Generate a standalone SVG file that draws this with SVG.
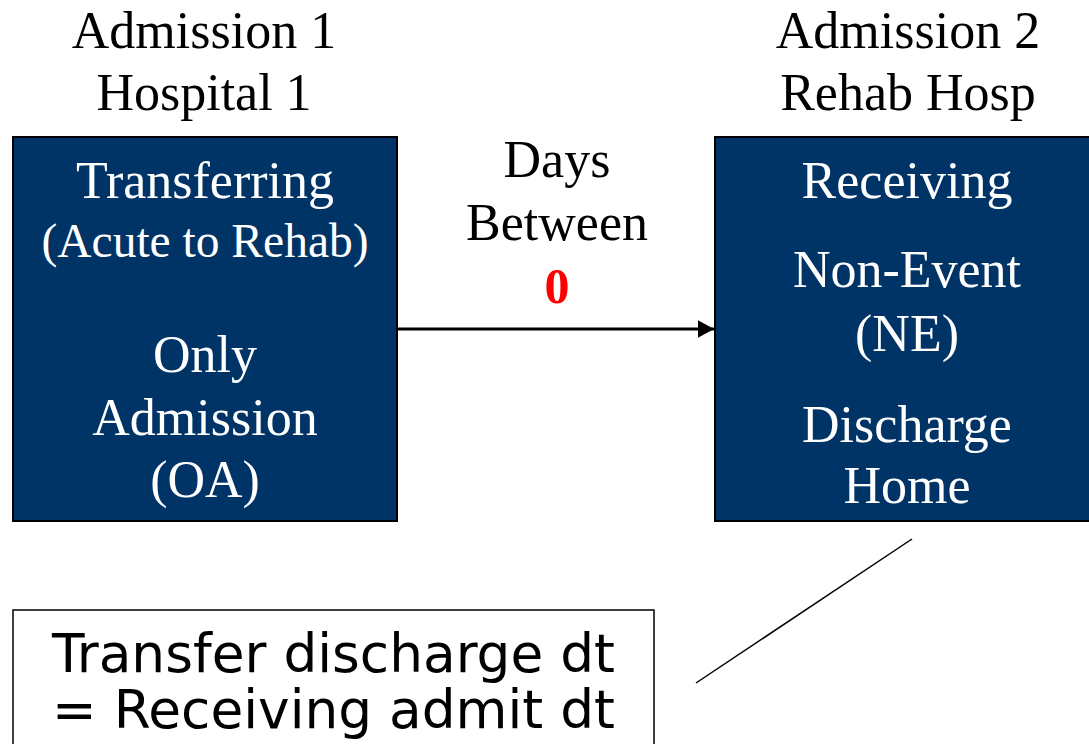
<svg xmlns="http://www.w3.org/2000/svg" width="1089" height="744" viewBox="0 0 1089 744">
<style>
.serif{font-family:"Liberation Serif","Times New Roman",serif;font-size:52px;text-anchor:middle}
.hdr{fill:#000}
.inbox{fill:#fff}
.node{fill:#003366;stroke:#000;stroke-width:2}
.sans{font-family:"DejaVu Sans","Liberation Sans",sans-serif;font-size:53px;fill:#000}
</style>
<defs>
<marker id="arr" markerWidth="6" markerHeight="6" refX="5.5" refY="3" orient="auto" markerUnits="strokeWidth">
<path d="M0,0 L5.5,3 L0,6 Z" fill="#000"/>
</marker>
</defs>
<rect width="1089" height="744" fill="#fff"/>
<g id="header1">
<text class="serif hdr" x="204" y="48">Admission 1</text>
<text class="serif hdr" x="204" y="110">Hospital 1</text>
</g>
<g id="header2">
<text class="serif hdr" x="908" y="48">Admission 2</text>
<text class="serif hdr" x="908" y="110">Rehab Hosp</text>
</g>
<g id="node1">
<rect class="node" x="13" y="137" width="384" height="384"/>
<text class="serif inbox" x="205" y="198">Transferring</text>
<text class="serif inbox" x="205" y="257" style="font-size:47.5px">(Acute to Rehab)</text>
<text class="serif inbox" x="205" y="372">Only</text>
<text class="serif inbox" x="205" y="435">Admission</text>
<text class="serif inbox" x="205" y="497">(OA)</text>
</g>
<g id="node2">
<rect class="node" x="715" y="137" width="390" height="384"/>
<text class="serif inbox" x="907" y="198">Receiving</text>
<text class="serif inbox" x="907" y="287">Non-Event</text>
<text class="serif inbox" x="907" y="351">(NE)</text>
<text class="serif inbox" x="907" y="442">Discharge</text>
<text class="serif inbox" x="907" y="503">Home</text>
</g>
<g id="days">
<text class="serif hdr" x="557" y="177">Days</text>
<text class="serif hdr" x="557" y="240">Between</text>
<text class="serif" x="557" y="303" style="fill:#ff0000;font-weight:bold;font-size:50px">0</text>
</g>
<g id="note">
<rect x="13" y="610" width="641" height="150" fill="#fff" stroke="#000" stroke-width="1.5"/>
<text class="sans" x="52" y="672" textLength="563" lengthAdjust="spacingAndGlyphs">Transfer discharge dt</text>
<text class="sans" x="52" y="728" textLength="563" lengthAdjust="spacingAndGlyphs">= Receiving admit dt</text>
</g>
<g id="connectors">
<line x1="398" y1="329" x2="714" y2="329" stroke="#000" stroke-width="3" marker-end="url(#arr)"/>
<line x1="912" y1="539" x2="696" y2="683" stroke="#000" stroke-width="1.5"/>
</g>
</svg>
